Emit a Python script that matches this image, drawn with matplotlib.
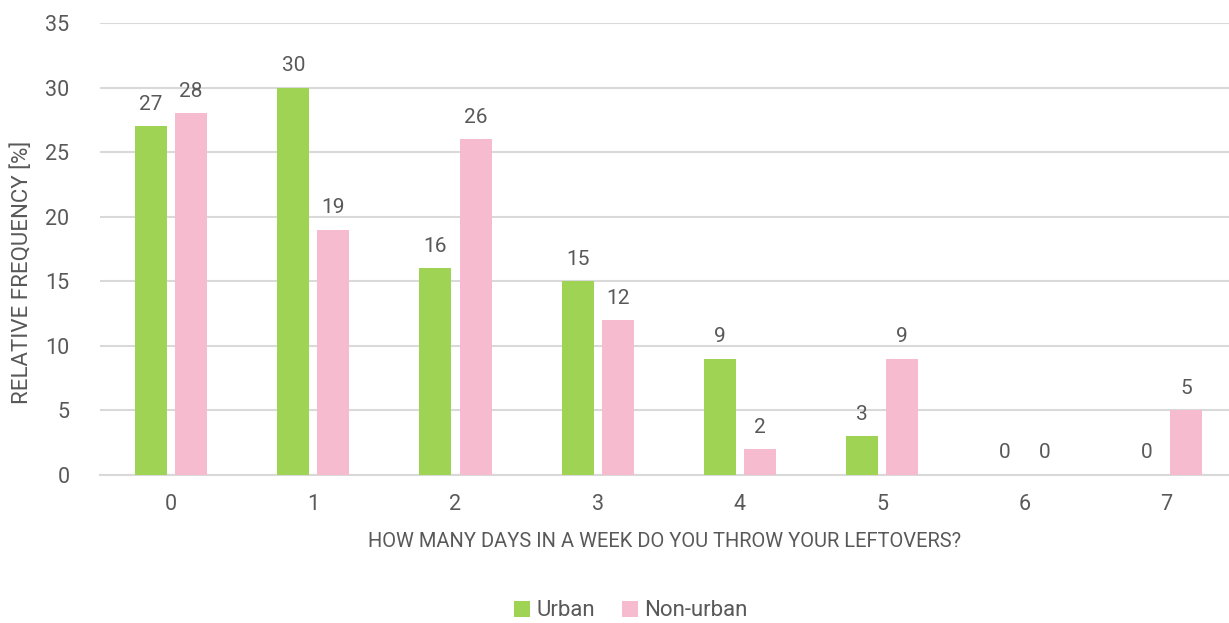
import numpy as np
import matplotlib.pyplot as plt

# data
days = ["0", "1", "2", "3", "4", "5", "6", "7"]
urban = [27, 30, 16, 15, 9, 3, 0, 0]
non_urban = [28, 19, 26, 12, 2, 9, 0, 5]

green = "#9ED353"
pink = "#F7BBD0"
txt = "#595959"

plt.rcParams["font.family"] = ["Roboto", "DejaVu Sans"]

fig = plt.figure(figsize=(12.29, 6.23), dpi=100)
ax = fig.add_axes([100 / 1229, 148 / 623, 1129 / 1229, 452 / 623])

x = np.arange(len(days))
w = 0.225
off = 0.141
b1 = ax.bar(x - off, urban, w, color=green, label="Urban", zorder=3)
b2 = ax.bar(x + off, non_urban, w, color=pink, label="Non-urban", zorder=3)

# value labels above bars
for bars, vals in [(b1, urban), (b2, non_urban)]:
    for b, v in zip(bars, vals):
        ax.annotate(str(v), (b.get_x() + b.get_width() / 2, v),
                    xytext=(0, 9), textcoords="offset points",
                    ha="center", va="bottom", fontsize=15, color=txt)

ax.set_xlim(-0.5, 7.44)
ax.set_ylim(0, 35)
ax.set_yticks(range(0, 36, 5))
ax.set_xticks(x)
ax.set_xticklabels(days)
ax.tick_params(length=0, labelsize=15.5, colors=txt)
ax.tick_params(axis="y", pad=22)
ax.tick_params(axis="x", pad=14)
ax.grid(axis="y", color="#D9D9D9", linewidth=1.5, zorder=0)
for s in ["top", "right", "left"]:
    ax.spines[s].set_visible(False)
ax.spines["bottom"].set_color("#D9D9D9")
ax.spines["bottom"].set_linewidth(1.5)

ax.set_ylabel("RELATIVE FREQUENCY [%]", fontsize=16, color=txt, va="center")
ax.yaxis.set_label_coords(-0.069, 0.449)
ax.set_xlabel("HOW MANY DAYS IN A WEEK DO YOU THROW YOUR LEFTOVERS?",
              fontsize=14.5, color=txt, labelpad=12)

fig.legend(handles=[b1, b2], loc="center", bbox_to_anchor=(631 / 1229, 12 / 623),
           ncol=2, frameon=False, fontsize=16, labelcolor=txt,
           handlelength=0.7, handleheight=0.7, handletextpad=0.3, columnspacing=1.2)

fig.savefig("out.png", dpi=100)
